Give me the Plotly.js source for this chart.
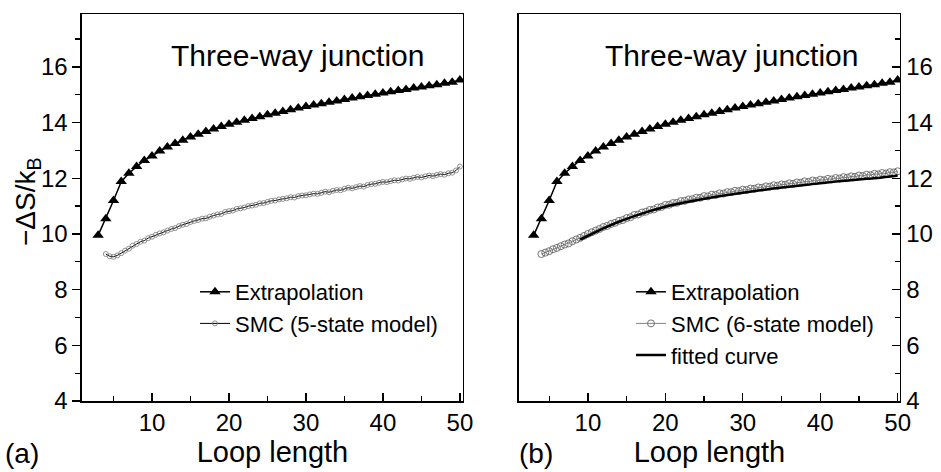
<!DOCTYPE html>
<html>
<head>
<meta charset="utf-8">
<script src="https://cdn.plot.ly/plotly-3.0.1.min.js"></script>
<style>html,body{margin:0;padding:0;background:#fff;}#chart{width:941px;height:472px;}</style>
</head>
<body>
<div id="chart"></div>
<script>
// Extrapolation (same in both panels)
const extrapX = [3,4,5,6,7,8,9,10,11,12,13,14,15,16,17,18,19,20,21,22,23,24,25,26,27,28,29,30,31,32,33,34,35,36,37,38,39,40,41,42,43,44,45,46,47,48,49,50];
const extrapY = [9.95,10.55,11.2,11.88,12.18,12.42,12.64,12.8,12.98,13.12,13.25,13.37,13.48,13.58,13.68,13.77,13.86,13.94,14.01,14.08,14.15,14.21,14.28,14.34,14.4,14.46,14.52,14.58,14.63,14.68,14.73,14.78,14.83,14.88,14.93,14.97,15.02,15.06,15.11,15.15,15.19,15.24,15.28,15.32,15.36,15.41,15.45,15.53];

// SMC loop lengths
const smcX = [4,4.5,5,5.5,6,6.5,7,7.5,8,8.5,9,9.5,10,10.5,11,11.5,12,12.5,13,13.5,14,14.5,15,15.5,16,16.5,17,17.5,18,18.5,19,19.5,20,20.5,21,21.5,22,22.5,23,23.5,24,24.5,25,25.5,26,26.5,27,27.5,28,28.5,29,29.5,30,30.5,31,31.5,32,32.5,33,33.5,34,34.5,35,35.5,36,36.5,37,37.5,38,38.5,39,39.5,40,40.5,41,41.5,42,42.5,43,43.5,44,44.5,45,45.5,46,46.5,47,47.5,48,48.5,49,49.5,50];

// SMC (5-state model), panel (a)
const smc5Y = [9.28,9.2,9.18,9.23,9.31,9.4,9.47,9.58,9.64,9.72,9.76,9.85,9.9,9.97,10.02,10.06,10.12,10.18,10.21,10.28,10.33,10.36,10.43,10.47,10.5,10.55,10.56,10.62,10.66,10.7,10.72,10.79,10.82,10.84,10.9,10.92,10.95,11.0,11.02,11.05,11.1,11.11,11.15,11.19,11.2,11.24,11.26,11.28,11.32,11.31,11.36,11.38,11.39,11.42,11.45,11.44,11.48,11.52,11.5,11.55,11.58,11.57,11.62,11.66,11.64,11.68,11.72,11.7,11.76,11.79,11.8,11.84,11.87,11.86,11.9,11.93,11.92,11.96,11.99,11.98,12.02,12.05,12.03,12.07,12.1,12.08,12.12,12.15,12.13,12.18,12.2,12.28,12.42];

// SMC (6-state model), panel (b)
const smc6Y = [9.28,9.33,9.38,9.45,9.5,9.56,9.62,9.66,9.74,9.8,9.86,9.93,10.0,10.06,10.12,10.18,10.25,10.29,10.36,10.4,10.47,10.5,10.57,10.6,10.68,10.7,10.77,10.8,10.86,10.88,10.95,10.97,11.04,11.05,11.11,11.12,11.18,11.19,11.24,11.25,11.3,11.3,11.36,11.35,11.41,11.4,11.46,11.45,11.5,11.5,11.55,11.54,11.59,11.58,11.63,11.62,11.67,11.66,11.71,11.7,11.75,11.73,11.78,11.77,11.82,11.8,11.85,11.84,11.89,11.87,11.92,11.9,11.95,11.93,11.98,11.96,12.01,11.99,12.04,12.02,12.07,12.05,12.1,12.08,12.13,12.11,12.16,12.14,12.19,12.17,12.22,12.21,12.25];

// fitted curve, panel (b)
const fitX = [9,10,12,14,16,18,20,22,24,26,28,30,32,34,36,38,40,42,44,46,48,50];
const fitY = [9.8,9.93,10.2,10.44,10.64,10.82,10.98,11.1,11.21,11.31,11.4,11.48,11.56,11.63,11.7,11.76,11.82,11.88,11.93,11.98,12.03,12.1];

const FONT = 'Liberation Sans, Arial, Helvetica, sans-serif';

const traces = [
  {x: extrapX, y: extrapY, xaxis:'x', yaxis:'y', mode:'lines+markers', name:'Extrapolation', legend:'legend',
   line:{color:'#000', width:1.5}, marker:{symbol:'triangle-up', size:10, color:'#000'}},
  {x: smcX, y: smc5Y, xaxis:'x', yaxis:'y', mode:'lines+markers', name:'SMC (5-state model)', legend:'legend',
   line:{color:'#000', width:1}, marker:{symbol:'circle-open', size:5, color:'#777', line:{width:0.8}}},
  {x: extrapX, y: extrapY, xaxis:'x2', yaxis:'y2', mode:'lines+markers', name:'Extrapolation', legend:'legend2',
   line:{color:'#000', width:1.5}, marker:{symbol:'triangle-up', size:10, color:'#000'}},
  {x: smcX, y: smc6Y, xaxis:'x2', yaxis:'y2', mode:'lines+markers', name:'SMC (6-state model)', legend:'legend2',
   line:{color:'#666', width:0.8}, marker:{symbol:'circle-open', size:7, color:'#666', line:{width:0.9}}},
  {x: fitX, y: fitY, xaxis:'x2', yaxis:'y2', mode:'lines', name:'fitted curve', legend:'legend2',
   line:{color:'#000', width:2.5, shape:'spline'}}
];

const xCommon = {
  showline:true, mirror:true, linecolor:'#000', linewidth:1.5, showgrid:false, zeroline:false,
  tick0:0, dtick:10, ticks:'inside', ticklen:8, tickwidth:1.3, tickcolor:'#000',
  minor:{tick0:0, dtick:5, ticks:'inside', ticklen:5, tickwidth:1.3, tickcolor:'#000', showgrid:false},
  tickfont:{family:FONT, size:24, color:'#000'},
  title:{text:'Loop length', font:{family:FONT, size:29, color:'#000'}, standoff:4}
};
const yCommon = {
  showline:true, mirror:true, linecolor:'#000', linewidth:1.5, showgrid:false, zeroline:false,
  range:[4,17.9], tick0:0, dtick:2, ticklen:8, tickwidth:1.3, tickcolor:'#000',
  tickfont:{family:FONT, size:24, color:'#000'},
  domain:[0.1504, 0.9703]
};

const layout = {
  width:941, height:472,
  margin:{l:0, r:0, t:0, b:0},
  paper_bgcolor:'#fff', plot_bgcolor:'#fff',
  font:{family:FONT, color:'#000'},
  xaxis: Object.assign({}, xCommon, {domain:[0.0871, 0.4920], range:[0.9, 50.4], anchor:'y'}),
  yaxis: Object.assign({}, yCommon, {anchor:'x', side:'left', ticks:'outside',
    minor:{tick0:0, dtick:1, ticks:'outside', ticklen:5, tickwidth:1.3, tickcolor:'#000', showgrid:false}}),
  xaxis2: Object.assign({}, xCommon, {domain:[0.5515, 0.9564], range:[1.1, 50.3], anchor:'y2'}),
  yaxis2: Object.assign({}, yCommon, {anchor:'x2', side:'right', ticks:'inside',
    minor:{tick0:0, dtick:1, ticks:'inside', ticklen:5, tickwidth:1.3, tickcolor:'#000', showgrid:false}}),
  showlegend:true,
  legend:{x:195/941, y:1-271/472, xanchor:'left', yanchor:'top', bgcolor:'rgba(0,0,0,0)',
    font:{family:FONT, size:22, color:'#000'}, tracegroupgap:0, itemsizing:'trace'},
  legend2:{x:631/941, y:1-271/472, xanchor:'left', yanchor:'top', bgcolor:'rgba(0,0,0,0)',
    font:{family:FONT, size:22, color:'#000'}, tracegroupgap:0, itemsizing:'trace'},
  annotations:[
    {text:'Three-way junction', xref:'paper', yref:'paper', x:297/941, y:1-55/472, xanchor:'center', yanchor:'middle',
     showarrow:false, font:{family:FONT, size:30, color:'#000'}},
    {text:'Three-way junction', xref:'paper', yref:'paper', x:731/941, y:1-55/472, xanchor:'center', yanchor:'middle',
     showarrow:false, font:{family:FONT, size:30, color:'#000'}},
    {text:'\u2212\u0394S/k<sub>B</sub>', xref:'paper', yref:'paper', x:27/941, y:1-202/472, xanchor:'center', yanchor:'middle',
     textangle:-90, showarrow:false, font:{family:FONT, size:28, color:'#000'}},
    {text:'(a)', xref:'paper', yref:'paper', x:22/941, y:1-453/472, xanchor:'center', yanchor:'middle',
     showarrow:false, font:{family:FONT, size:28, color:'#000'}},
    {text:'(b)', xref:'paper', yref:'paper', x:536/941, y:1-453/472, xanchor:'center', yanchor:'middle',
     showarrow:false, font:{family:FONT, size:28, color:'#000'}}
  ]
};

Plotly.newPlot('chart', traces, layout, {staticPlot:true, displayModeBar:false});
</script>
</body>
</html>
